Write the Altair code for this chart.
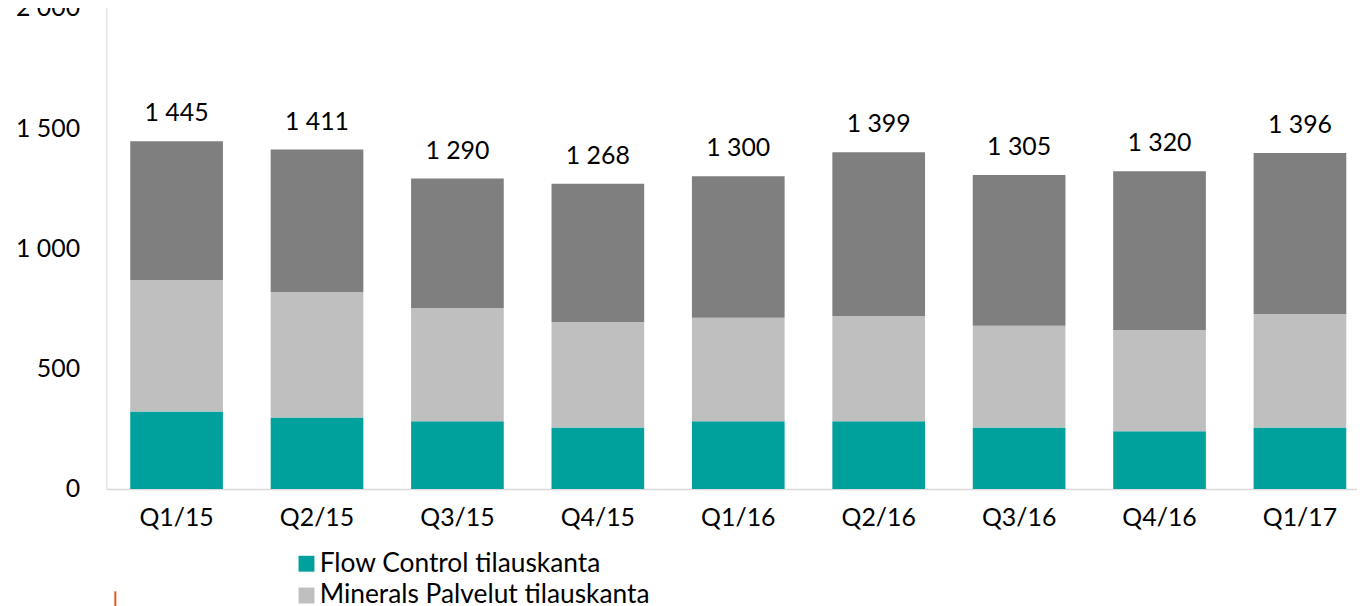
import altair as alt
import pandas as pd

quarters = ["Q1/15", "Q2/15", "Q3/15", "Q4/15", "Q1/16", "Q2/16", "Q3/16", "Q4/16", "Q1/17"]
flow_control = [322, 297, 281, 255, 281, 281, 255, 240, 255]
minerals_palvelut = [546, 522, 471, 439, 430, 438, 423, 421, 472]
minerals_laitteet = [577, 592, 538, 574, 589, 680, 627, 659, 669]
totals = [1445, 1411, 1290, 1268, 1300, 1399, 1305, 1320, 1396]
total_labels = ["1 445", "1 411", "1 290", "1 268", "1 300", "1 399", "1 305", "1 320", "1 396"]

series_names = ["Flow Control tilauskanta", "Minerals Palvelut tilauskanta", "Minerals Laitteet tilauskanta"]
series_colors = ["#00A19D", "#BFBFBF", "#7F7F7F"]
series_values = [flow_control, minerals_palvelut, minerals_laitteet]

rows = []
for si, (name, vals) in enumerate(zip(series_names, series_values)):
    for q, v in zip(quarters, vals):
        rows.append({"quarter": q, "series": name, "value": v, "ord": si})
df = pd.DataFrame(rows)
df_tot = pd.DataFrame({"quarter": quarters, "total": totals, "label": total_labels})

FONT = "Lato"

x_scale = alt.Scale(paddingInner=0.34, paddingOuter=0.123, align=0.69, round=False)

x_enc = alt.X(
    "quarter:N",
    sort=quarters,
    scale=x_scale,
    axis=alt.Axis(
        title=None, labelAngle=0, ticks=False, tickSize=0, labelPadding=17,
        labelFont=FONT, labelFontSize=25, labelColor="#000000",
        domainColor="#D9D9D9", domainWidth=1.5, grid=False,
    ),
)

bars = alt.Chart(df).mark_bar().encode(
    x=x_enc,
    y=alt.Y(
        "value:Q",
        stack="zero",
        scale=alt.Scale(domain=[0, 2000], nice=False),
        axis=alt.Axis(
            title=None, values=[0, 500, 1000, 1500, 2000], ticks=False, tickSize=0,
            labelPadding=27, labelFont=FONT, labelFontSize=25, labelColor="#000000",
            labelExpr="replace(format(datum.value, ','), ',', ' ')",
            domainColor="#D9D9D9", domainWidth=1, grid=False,
        ),
    ),
    color=alt.Color(
        "series:N",
        sort=series_names,
        scale=alt.Scale(domain=series_names, range=series_colors),
        legend=alt.Legend(
            title=None, orient="none", legendX=188, legendY=546, direction="vertical",
            symbolType="square", symbolSize=256, symbolStrokeWidth=0, symbolOpacity=1,
            labelFont=FONT, labelFontSize=26.5, labelColor="#000000", labelLimit=0,
            labelOffset=0, rowPadding=5, padding=0,
        ),
    ),
    order=alt.Order("ord:Q", sort="ascending"),
)

text = alt.Chart(df_tot).mark_text(
    font=FONT, fontSize=25, color="#000000", baseline="alphabetic", dy=-20
).encode(
    x=alt.X("quarter:N", sort=quarters, scale=x_scale),
    y=alt.Y("total:Q"),
    text="label:N",
)

accent = alt.Chart(alt.Data(values=[{}])).mark_rule(color="#E8541C", strokeWidth=2).encode(
    x=alt.value(9), y=alt.value(587), y2=alt.value(602)
)

chart = alt.layer(bars, text, accent).properties(
    width=1258,
    height=484,
    padding={"left": 99, "top": -2, "right": 0, "bottom": 116},
    autosize=alt.AutoSizeParams(type="none"),
    background="white",
).configure_view(stroke=None)

chart.save("out.html", embed_options={"renderer": "svg", "actions": False})
